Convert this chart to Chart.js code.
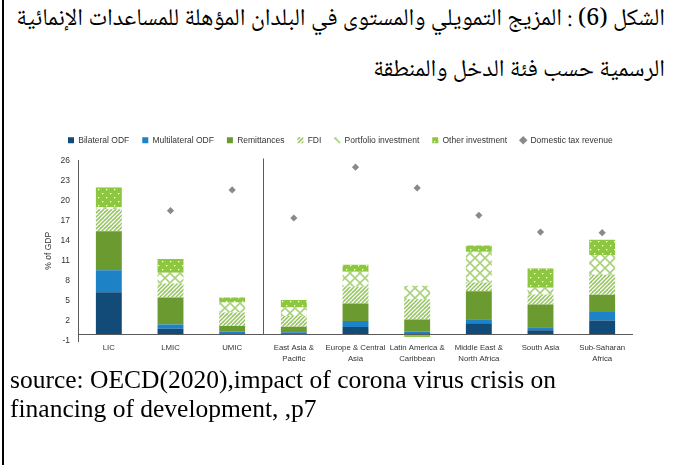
<!DOCTYPE html>
<html><head><meta charset="utf-8">
<script src="https://cdn.jsdelivr.net/npm/chart.js@4"></script>
<style>
html,body{margin:0;padding:0;background:#fff;}
body{width:679px;height:465px;position:relative;overflow:hidden;}
#border{position:absolute;left:2px;top:0;width:2px;height:465px;background:#000;}
.ar{position:absolute;right:14px;direction:rtl;white-space:nowrap;font-family:"Noto Naskh Arabic","Noto Sans Arabic","DejaVu Sans",serif;color:#000;line-height:1;}
.src{position:absolute;left:10px;white-space:nowrap;font-family:"Liberation Serif","Times New Roman",serif;color:#000;line-height:1;}
#wrap{position:absolute;left:0;top:123px;width:679px;height:248px;}
</style></head>
<body>
<div id="border"></div>
<div class="ar" id="t1">الشكل (6) : المزيج التمويلي والمستوى في البلدان المؤهلة للمساعدات الإنمائية</div>
<div class="ar" id="t2">الرسمية حسب فئة الدخل والمنطقة</div>
<div id="wrap"><canvas id="c"></canvas></div>
<div class="src" id="s1">source: OECD(2020),impact of corona virus crisis on</div>
<div class="src" id="s2">financing of development, ,p7</div>
<script>
// ---- data ----
const categories = [['LIC'],['LMIC'],['UMIC'],['East Asia &','Pacific'],['Europe & Central','Asia'],['Latin America &','Caribbean'],['Middle East &','North Africa'],['South Asia'],['Sub-Saharan','Africa']];
const seriesNames = ['Bilateral ODF','Multilateral ODF','Remittances','FDI','Portfolio investment','Other investment','Domestic tax revenue'];
const bilateralODF   = [6.3, 0.85, 0.15, 0.15, 1.1, 0.15, 1.65, 0.6, 2.05];
const multilateralODF= [3.3, 0.6, 0.25, 0.15, 0.9, 0.25, 0.6, 0.45, 1.3];
const remittances    = [5.8, 4.05, 0.85, 0.85, 2.6, 1.8, 4.2, 3.4, 2.55];
const fdi            = [3.3, 2.1, 2.0, 1.6, 2.5, 3.05, 1.3, 1.5, 3.0];
const portfolio      = [0.3, 1.6, 1.5, 1.25, 2.25, 2.0, 4.6, 1.0, 2.95];
const otherInvest    = [2.95, 2.05, 0.75, 1.15, 1.05, -0.4, 0.95, 2.9, 2.3];
const domesticTax    = [13.5, 18.5, 21.6, 17.4, 25.0, 21.9, 17.8, 15.3, 15.2];
const yTicks = [-1, 2, 5, 8, 11, 14, 17, 20, 23, 26];

// ---- text fitting ----
function fit(id, target, base){
  const el = document.getElementById(id);
  el.style.fontSize = base + 'px';
  const w = el.getBoundingClientRect().width;
  const s = base * target / w;
  el.style.fontSize = s.toFixed(2) + 'px';
  return s;
}
const ts = fit('t1', 649, 20);
document.getElementById('t2').style.fontSize = ts.toFixed(2)+'px';
document.getElementById('t1').style.top = (21 - ts*0.55)+'px';
document.getElementById('t2').style.top = (72 - ts*0.55)+'px';
const ss = fit('s1', 546, 24);
document.getElementById('s2').style.fontSize = ss.toFixed(2)+'px';
document.getElementById('s1').style.top = (390 - ss*0.89)+'px';
document.getElementById('s2').style.top = (419 - ss*0.89)+'px';

// ---- patterns ----
const LG = '#8dc63f';
function pat(draw, size){
  const c = document.createElement('canvas'); c.width = size; c.height = size;
  const g = c.getContext('2d'); draw(g, size);
  return g.createPattern(c, 'repeat');
}
const fdiPat = pat((g,s)=>{
  g.fillStyle = '#93c65a'; g.fillRect(0,0,s,s);
  g.strokeStyle = '#ffffff'; g.lineWidth = 1.3;
  g.beginPath();
  for(let k=-s;k<=s*2;k+=s/2){ g.moveTo(k, s); g.lineTo(k+s, 0); }
  g.stroke();
}, 8);
const portPat = pat((g,s)=>{
  g.fillStyle = '#ffffff'; g.fillRect(0,0,s,s);
  g.strokeStyle = '#a9d37a'; g.lineWidth = 1.6;
  g.beginPath();
  g.moveTo(0,0); g.lineTo(s,s); g.moveTo(s,0); g.lineTo(0,s);
  g.stroke();
}, 10);
const otherPat = pat((g,s)=>{
  g.fillStyle = LG; g.fillRect(0,0,s,s);
  g.fillStyle = '#ffffff';
  g.fillRect(2,2,1.3,1.3); g.fillRect(6,6,1.3,1.3);
}, 8);

const FONT = '"Liberation Sans Narrow","Liberation Sans",Arial,sans-serif';

const refLines = {
  id:'refLines',
  afterDatasetsDraw(chart){
    const {ctx, chartArea, scales:{x,y}} = chart;
    ctx.save();
    ctx.strokeStyle = '#5a5a5a'; ctx.lineWidth = 1;
    const y0 = Math.round(y.getPixelForValue(0)) + 0.5;
    ctx.beginPath(); ctx.moveTo(chartArea.left, y0); ctx.lineTo(chartArea.right, y0); ctx.stroke();
    const xs = Math.round((x.getPixelForValue(2) + x.getPixelForValue(3)) / 2) + 0.5;
    ctx.beginPath(); ctx.moveTo(xs, chartArea.top - 2); ctx.lineTo(xs, y0); ctx.stroke();
    ctx.restore();
  }
};
const legendShift = {
  id:'legendShift',
  afterLayout(chart){
    const lg = chart.legend; if(!lg) return;
    const dx = 55 - lg.left;
    lg.left += dx; lg.right += dx;
  }
};

function barDs(label, data, color){
  return {type:'bar', label, data, backgroundColor:color, borderWidth:0, stack:'s', pointStyle:'rect'};
}

new Chart(document.getElementById('c'), {
  data: {
    labels: categories,
    datasets: [
      barDs(seriesNames[0], bilateralODF, '#124a78'),
      barDs(seriesNames[1], multilateralODF, '#1e82c6'),
      barDs(seriesNames[2], remittances, '#6b9a30'),
      barDs(seriesNames[3], fdi, fdiPat),
      barDs(seriesNames[4], portfolio, portPat),
      barDs(seriesNames[5], otherInvest, otherPat),
      {type:'line', label: seriesNames[6], data: domesticTax, showLine:false, stack:'tax',
       pointStyle:'rectRot', pointRadius:3.6, pointBackgroundColor:'#8a8a8a', pointBorderWidth:0,
       backgroundColor:'#8a8a8a', borderColor:'#8a8a8a'}
    ]
  },
  options: {
    responsive:true, maintainAspectRatio:false, animation:false,
    layout:{padding:{left:40, right:46, top:0, bottom:0}},
    datasets:{bar:{categoryPercentage:1, barPercentage:0.42}},
    plugins:{
      tooltip:{enabled:false},
      legend:{
        position:'top', align:'start',
        labels:{
          font:{family:FONT, size:8.5}, color:'#333', boxWidth:6, boxHeight:6, padding:13,
          usePointStyle:true,
          generateLabels(chart){
            const items = Chart.defaults.plugins.legend.labels.generateLabels(chart);
            items.forEach((it,i)=>{ it.pointStyle = i===6 ? 'rectRot' : 'rect'; it.lineWidth = 0; it.strokeStyle = 'rgba(0,0,0,0)'; });
            return items;
          }
        }
      }
    },
    scales:{
      x:{
        stacked:true,
        grid:{display:false, drawTicks:false}, border:{display:false},
        ticks:{font:{family:FONT, size:7.8, lineHeight:1.45}, color:'#333', padding:1, maxRotation:0, autoSkip:false},
        afterFit(s){ s.height = 30; }
      },
      xTop:{
        position:'top', display:true, grid:{display:false, drawTicks:false}, border:{display:false},
        ticks:{display:false}, afterFit(s){ s.height = 6; }
      },
      y:{
        stacked:true, min:-1, max:26,
        afterBuildTicks(s){ s.ticks = yTicks.map(v=>({value:v})); },
        grid:{display:false, drawTicks:false}, border:{display:true, color:'#5a5a5a', width:1},
        ticks:{font:{family:FONT, size:8.5}, color:'#333', padding:8},
        title:{display:true, text:'% of GDP', font:{family:FONT, size:8.5}, color:'#333', padding:{top:4,bottom:0}},
        afterFit(s){ s.width = 38; }
      }
    }
  },
  plugins:[refLines, legendShift]
});
</script>
</body></html>
